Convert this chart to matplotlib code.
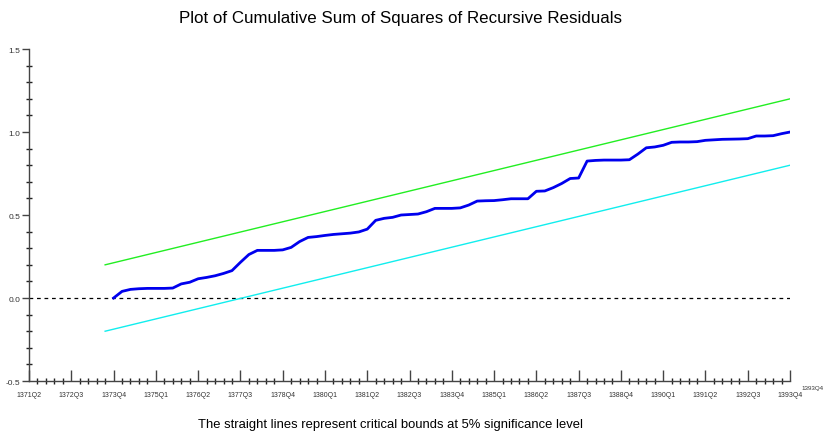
import matplotlib
matplotlib.use("Agg")
import matplotlib.pyplot as plt
from matplotlib.ticker import MultipleLocator, FixedLocator
import numpy as np

# Quarter labels (every 5 quarters from 1371Q2 to 1393Q4)
tick_labels = ["1371Q2", "1372Q3", "1373Q4", "1375Q1", "1376Q2", "1377Q3", "1378Q4",
               "1380Q1", "1381Q2", "1382Q3", "1383Q4", "1385Q1", "1386Q2", "1387Q3",
               "1388Q4", "1390Q1", "1391Q2", "1392Q3", "1393Q4"]
n_quarters = 91  # 1371Q2 .. 1393Q4

# CUSUMSQ statistic, from 1373Q4 (index 10) to 1393Q4 (index 90)
cusumsq_start = 10
cusumsq = [0.000, 0.040, 0.052, 0.056, 0.058, 0.058, 0.058, 0.060, 0.085, 0.095,
           0.116, 0.124, 0.134, 0.148, 0.165, 0.215, 0.262, 0.287, 0.287, 0.287,
           0.290, 0.305, 0.340, 0.365, 0.370, 0.377, 0.383, 0.387, 0.391, 0.398,
           0.415, 0.468, 0.480, 0.486, 0.500, 0.503, 0.506, 0.520, 0.540, 0.540,
           0.540, 0.543, 0.560, 0.584, 0.586, 0.587, 0.592, 0.598, 0.598, 0.598,
           0.643, 0.645, 0.665, 0.690, 0.720, 0.723, 0.825, 0.829, 0.831, 0.831,
           0.831, 0.833, 0.867, 0.905, 0.910, 0.920, 0.938, 0.940, 0.940, 0.942,
           0.950, 0.953, 0.956, 0.957, 0.958, 0.960, 0.976, 0.976, 0.978, 0.990,
           1.000]

# 5% critical bounds (straight lines), endpoints
bound_x = [9, 90]
upper_bound = [0.2, 1.2]
lower_bound = [-0.2, 0.8]

plt.rcParams['font.family'] = ['Liberation Sans', 'DejaVu Sans']

fig = plt.figure(figsize=(8.27, 4.35), dpi=100)
ax = fig.add_axes([0.0351, 0.1218, 0.9202, 0.7632])

x_cs = np.arange(cusumsq_start, cusumsq_start + len(cusumsq))
ax.axhline(0, color="black", lw=0.9, ls=(0, (3, 3)))
ax.plot(bound_x, upper_bound, color="#22ee22", lw=1.0)
ax.plot(bound_x, lower_bound, color="#11eeee", lw=1.0)
ax.plot(x_cs, cusumsq, color="#0000ee", lw=2.0)

ax.set_xlim(0, n_quarters - 1)
ax.set_ylim(-0.5, 1.5)

major_pos = np.arange(0, n_quarters, 5)
ax.xaxis.set_major_locator(FixedLocator(major_pos))
ax.set_xticklabels(tick_labels)
ax.xaxis.set_minor_locator(MultipleLocator(1))
ax.yaxis.set_major_locator(MultipleLocator(0.5))
ax.yaxis.set_minor_locator(MultipleLocator(0.1))
ax.yaxis.set_major_formatter(matplotlib.ticker.FormatStrFormatter('%.1f'))

for s in ["top", "right"]:
    ax.spines[s].set_visible(False)
for s in ["left", "bottom"]:
    ax.spines[s].set_color("#444444")
    ax.spines[s].set_linewidth(1.0)

ax.tick_params(axis="x", which="major", direction="in", length=8, width=1, color="#444444",
               labelsize=5, pad=7, labelcolor="#333333")
ax.tick_params(axis="x", which="minor", direction="inout", length=5, width=1, color="#222222")
ax.tick_params(axis="y", which="major", direction="out", length=5, width=1, color="#444444",
               labelsize=6, pad=1, labelcolor="#333333")
ax.tick_params(axis="y", which="minor", direction="inout", length=4, width=1, color="#222222")

fig.text(0.484, 0.958, "Plot of Cumulative Sum of Squares of Recursive Residuals",
         ha="center", va="center", fontsize=12.2)
fig.text(0.472, 0.022, "The straight lines represent critical bounds at 5% significance level",
         ha="center", va="center", fontsize=9.4)
fig.text(0.983, 0.106, "1393Q4", ha="center", va="center", fontsize=4.5, color="#333333")

fig.savefig("out.png", dpi=100)
